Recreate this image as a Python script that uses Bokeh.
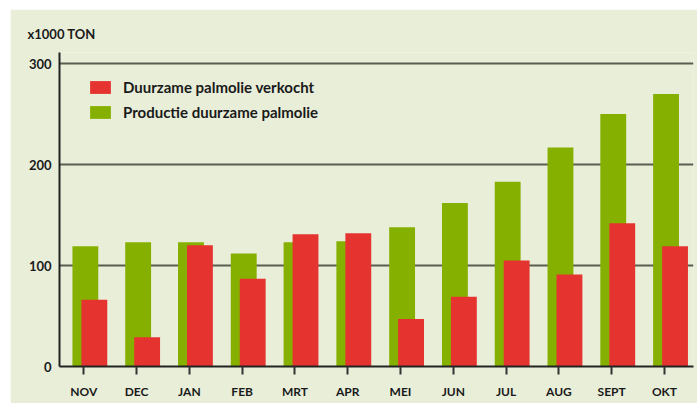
from bokeh.plotting import figure
from bokeh.models import (ColumnDataSource, Range1d, FixedTicker, Legend, LegendItem, Title, Spacer)
from bokeh.layouts import row, column
from bokeh.transform import dodge
from bokeh.embed import file_html
from bokeh.resources import INLINE

months = ["NOV", "DEC", "JAN", "FEB", "MRT", "APR", "MEI", "JUN", "JUL", "AUG", "SEPT", "OKT"]
productie = [119, 123, 123, 112, 123, 124, 138, 162, 183, 217, 250, 270]
verkocht = [66, 29, 120, 87, 131, 132, 47, 69, 105, 91, 142, 119]
y_ticks = [0, 100, 200, 300]

BG = "#e9eed9"
GREEN = "#86b000"
RED = "#e5342f"
TXT = "#1a1a1a"
FONT = "Lato"

src = ColumnDataSource(dict(x=list(range(len(months))), month=months,
                            productie=productie, verkocht=verkocht))

p = figure(width=687, height=394, output_backend="svg", toolbar_location=None,
           x_range=Range1d(-0.46, 11.55), y_range=Range1d(0, 311),
           min_border_left=49, min_border_right=4, min_border_top=43, min_border_bottom=37)
p.background_fill_color = BG
p.border_fill_color = BG
p.outline_line_color = None

g = p.vbar(x=dodge("x", 0.03), top="productie", width=0.49, source=src,
           fill_color=GREEN, line_color=None)
r = p.vbar(x=dodge("x", 0.2), top="verkocht", width=0.49, source=src,
           fill_color=RED, line_color=None)

# x axis
xa = p.xaxis[0]
xa.ticker = FixedTicker(ticks=list(range(len(months))))
xa.major_label_overrides = {i: m for i, m in enumerate(months)}
xa.axis_line_width = 2
xa.axis_line_color = "#222222"
xa.major_tick_out = 8
xa.major_tick_in = 0
xa.major_tick_line_width = 2
xa.major_tick_line_color = "#333333"
xa.minor_tick_line_color = None
xa.major_label_text_font = FONT
xa.major_label_text_font_style = "bold"
xa.major_label_text_font_size = "12px"
xa.major_label_text_color = TXT
xa.major_label_standoff = 9

# y axis
ya = p.yaxis[0]
ya.ticker = FixedTicker(ticks=y_ticks)
ya.axis_line_width = 2
ya.axis_line_color = "#222222"
ya.major_tick_out = 0
ya.major_tick_in = 0
ya.minor_tick_line_color = None
ya.major_label_text_font = FONT
ya.major_label_text_font_style = "bold"
ya.major_label_text_font_size = "13px"
ya.major_label_text_color = TXT
ya.major_label_standoff = 8

p.xgrid.grid_line_color = None
p.ygrid.ticker = FixedTicker(ticks=y_ticks)
p.ygrid.grid_line_color = "#5a5e50"
p.ygrid.grid_line_width = 2

legend = Legend(items=[LegendItem(label="Duurzame palmolie verkocht", renderers=[r]),
                       LegendItem(label="Productie duurzame palmolie", renderers=[g])],
                location=(28, 245), orientation="vertical",
                padding=0, margin=0, spacing=7,
                glyph_width=26, glyph_height=16, label_height=16, label_standoff=10,
                border_line_alpha=0, background_fill_alpha=0,
                label_text_font=FONT, label_text_font_style="bold",
                label_text_font_size="15px", label_text_color=TXT)
p.add_layout(legend, "center")

p.add_layout(Title(text="x1000 TON", align="left", offset=-32, standoff=22,
                   text_font=FONT, text_font_style="bold", text_font_size="13px",
                   text_color=TXT), "above")

layout = column(Spacer(height=9), row(Spacer(width=10), p))
open("out.html", "w").write(file_html(layout, INLINE))
